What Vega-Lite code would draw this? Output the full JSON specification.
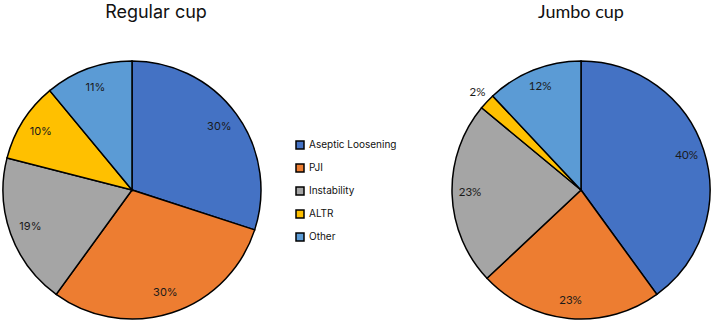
{
  "$schema": "https://vega.github.io/schema/vega-lite/v6.json",
  "padding": {"left": 0, "top": 4, "right": 0, "bottom": 0},
  "background": "white",
  "config": {"view": {"stroke": null}, "font": "Inter"},
  "datasets": {
    "regular": [
      {"cause": "Aseptic Loosening", "idx": 1, "pct": 0.30},
      {"cause": "PJI", "idx": 2, "pct": 0.30},
      {"cause": "Instability", "idx": 3, "pct": 0.19},
      {"cause": "ALTR", "idx": 4, "pct": 0.10},
      {"cause": "Other", "idx": 5, "pct": 0.11}
    ],
    "jumbo": [
      {"cause": "Aseptic Loosening", "idx": 1, "pct": 0.40},
      {"cause": "PJI", "idx": 2, "pct": 0.23},
      {"cause": "Instability", "idx": 3, "pct": 0.23},
      {"cause": "ALTR", "idx": 4, "pct": 0.02},
      {"cause": "Other", "idx": 5, "pct": 0.12}
    ]
  },
  "spacing": 52,
  "resolve": {"legend": {"color": "independent"}},
  "hconcat": [
    {
      "width": 258,
      "height": 258,
      "data": {"name": "regular"},
      "title": {"text": "Regular cup", "fontSize": 18, "fontWeight": "normal", "font": "Inter", "offset": 36, "dx": 24, "color": "#111"},
      "encoding": {
        "theta": {"field": "pct", "type": "quantitative", "stack": true},
        "order": {"field": "idx", "type": "quantitative"}
      },
      "layer": [
        {
          "mark": {"type": "arc", "stroke": "black", "strokeWidth": 1.5},
          "encoding": {
            "color": {
              "field": "cause", "type": "nominal",
              "scale": {"domain": ["Aseptic Loosening", "PJI", "Instability", "ALTR", "Other"], "range": ["#4472C4", "#ED7D31", "#A5A5A5", "#FFC000", "#5B9BD5"]},
              "legend": {"orient": "none", "legendX": 292, "legendY": 79, "direction": "vertical", "title": null, "symbolType": "square", "symbolSize": 64, "symbolStrokeColor": "black", "symbolStrokeWidth": 1.5, "labelFontSize": 10, "labelFont": "Inter", "labelColor": "#111", "rowPadding": 9, "labelOffset": 4}
            }
          }
        },
        {
          "mark": {"type": "text", "radius": 108, "fontSize": 11, "font": "Inter", "color": "#1a1a1a"},
          "encoding": {
            "text": {"field": "pct", "type": "quantitative", "format": ".0%"},
            "detail": {"field": "cause"}
          }
        }
      ]
    },
    {
      "width": 258,
      "height": 258,
      "data": {"name": "jumbo"},
      "title": {"text": "Jumbo cup", "fontSize": 18, "fontWeight": "normal", "font": "Lato", "offset": 36, "color": "#111"},
      "encoding": {
        "theta": {"field": "pct", "type": "quantitative", "stack": true},
        "order": {"field": "idx", "type": "quantitative"}
      },
      "layer": [
        {
          "mark": {"type": "arc", "stroke": "black", "strokeWidth": 1.5},
          "encoding": {
            "color": {"field": "cause", "type": "nominal", "legend": null}
          }
        },
        {
          "mark": {"type": "text", "fontSize": 11.5, "font": "Lato", "color": "#1a1a1a"},
          "encoding": {
            "text": {"field": "pct", "type": "quantitative", "format": ".0%"},
            "detail": {"field": "cause"},
            "radius": {"field": "pct", "type": "quantitative", "scale": {"type": "linear", "domain": [0.02, 0.05], "range": [142, 111], "clamp": true}}
          }
        }
      ]
    }
  ]
}
